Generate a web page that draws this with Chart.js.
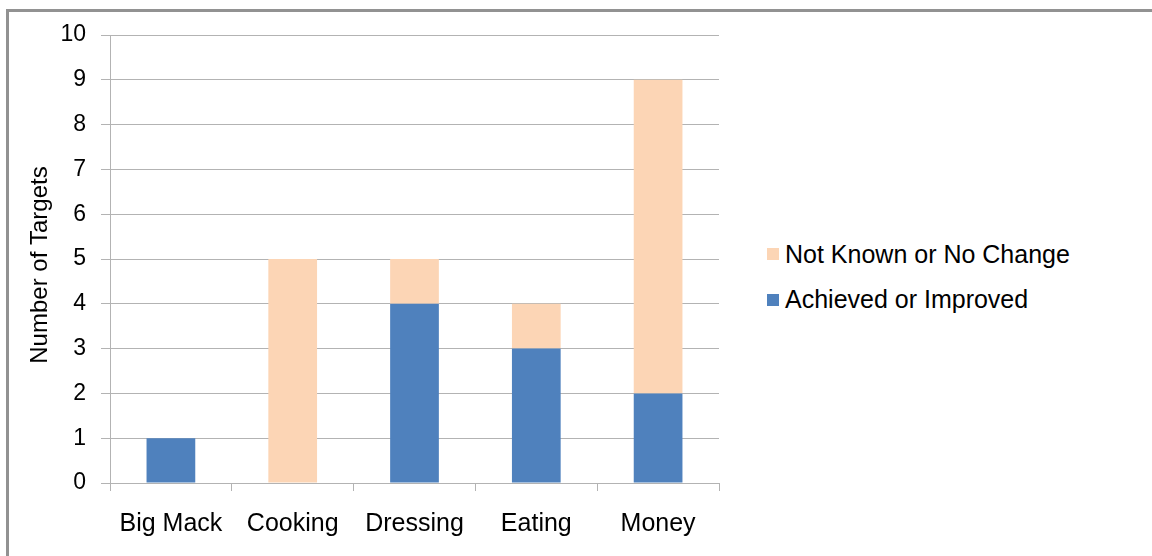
<!DOCTYPE html>
<html>
<head>
<meta charset="utf-8">
<script src="https://cdn.jsdelivr.net/npm/chart.js@4"></script>
<style>
  html, body { margin: 0; padding: 0; background: #fff; width: 1152px; height: 556px; overflow: hidden; }
  #frame { position: absolute; left: 6px; top: 9px; width: 1300px; height: 700px;
           border-left: 3px solid #929292; border-top: 3px solid #929292; box-sizing: border-box; }
  #wrap { position: absolute; left: 0; top: 0; width: 740px; height: 556px; }
  .leg { position: absolute; font-family: "Liberation Sans", Arial, sans-serif; font-size: 25px;
         line-height: 26px; color: #000; white-space: nowrap; }
  .sw { position: absolute; width: 12px; height: 12px; }
</style>
</head>
<body>
<div id="frame"></div>
<div id="wrap"><canvas id="c"></canvas></div>
<div class="sw" style="left:767px; top:248px; background:#FCD5B5"></div>
<div class="leg" id="l1" style="left:785px; top:241px"></div>
<div class="sw" style="left:767px; top:294px; background:#4F81BD"></div>
<div class="leg" id="l2" style="left:785px; top:286px"></div>
<script>
const categories = ["Big Mack", "Cooking", "Dressing", "Eating", "Money"];
const achievedLabel = "Achieved or Improved";
const notKnownLabel = "Not Known or No Change";
const achieved = [1, 0, 4, 3, 2];
const notKnown = [0, 5, 1, 1, 7];
const yTitle = "Number of Targets";

document.getElementById('l1').textContent = notKnownLabel;
document.getElementById('l2').textContent = achievedLabel;

const FONT = '"Liberation Sans", Arial, sans-serif';
const GRID = '#b3b3b3';

new Chart(document.getElementById('c'), {
  type: 'bar',
  data: {
    labels: categories,
    datasets: [
      { label: achievedLabel, data: achieved, backgroundColor: '#4F81BD', borderWidth: 0 },
      { label: notKnownLabel, data: notKnown, backgroundColor: '#FCD5B5', borderWidth: 0 }
    ]
  },
  options: {
    responsive: true,
    maintainAspectRatio: false,
    animation: false,
    categoryPercentage: 1,
    barPercentage: 0.4,
    layout: { padding: { top: 35, right: 21, bottom: 0, left: 0 } },
    plugins: { legend: { display: false }, tooltip: { enabled: false } },
    scales: {
      x: {
        stacked: true,
        grid: { display: true, drawOnChartArea: false, drawTicks: true, tickLength: 8, color: GRID, offset: true },
        border: { display: true, color: GRID, width: 1 },
        ticks: { color: '#000', font: { family: FONT, size: 25 }, padding: 18, maxRotation: 0 },
        afterFit: s => { s.height = 73; }
      },
      y: {
        stacked: true,
        min: 0, max: 10,
        ticks: { stepSize: 1, color: '#000', font: { family: FONT, size: 23 }, padding: 15 },
        grid: { color: GRID, tickLength: 9, drawTicks: true },
        border: { display: true, color: GRID, width: 1 },
        title: { display: true, text: yTitle + '\u2002', color: '#000', font: { family: FONT, size: 24 }, padding: { top: 26, bottom: 0 } },
        afterFit: s => { s.width = 110; }
      }
    }
  }
});
</script>
</body>
</html>
